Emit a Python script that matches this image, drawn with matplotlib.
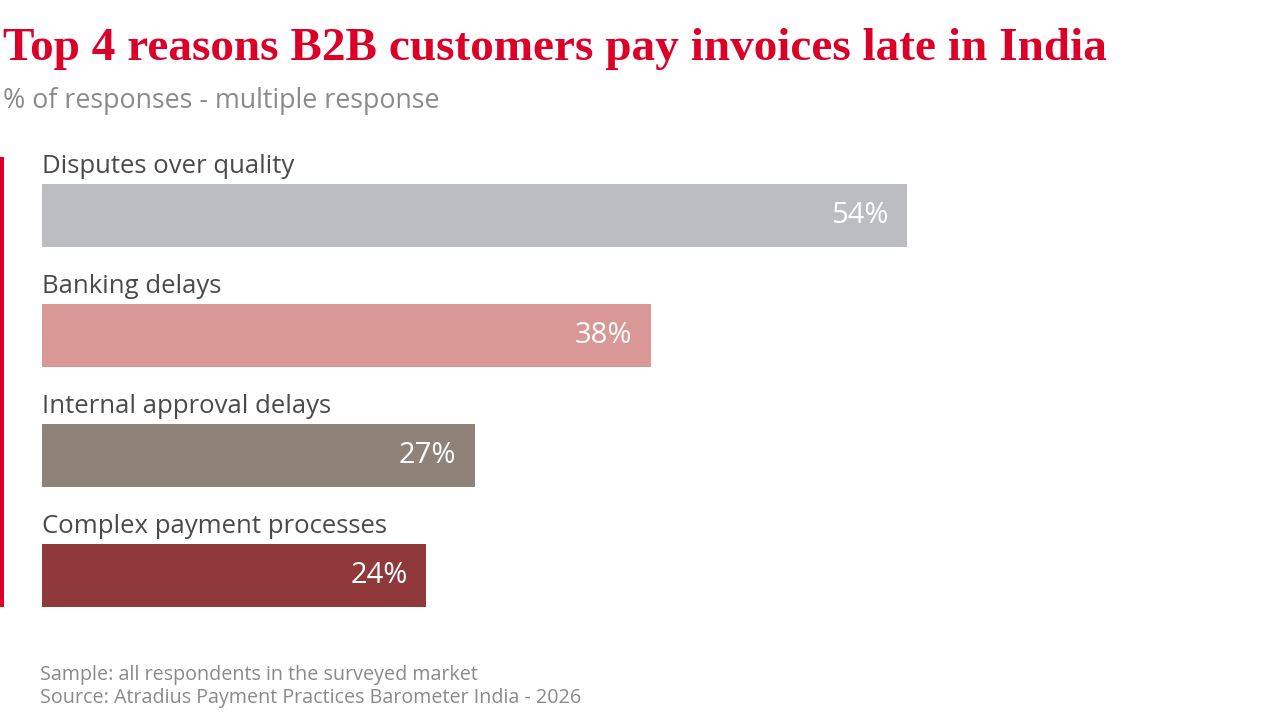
import matplotlib.pyplot as plt
from matplotlib.patches import Rectangle

# data
categories = ["Disputes over quality", "Banking delays",
              "Internal approval delays", "Complex payment processes"]
values = [54, 38, 27, 24]
bar_colors = ["#bcbdc1", "#d99795", "#8e8279", "#8f393b"]

W, H = 1280, 720
RED = "#dc0028"
GREY_TXT = "#4a4a4a"
SANS = ["Open Sans", "DejaVu Sans"]


def fx(px):
    return px / W


def fy(py):
    return 1 - py / H


fig = plt.figure(figsize=(12.8, 7.2), dpi=100)
fig.patch.set_facecolor("white")

# axes: bars start at x=42px, 54% ends at 907px, 4 slots of 120px from y=155.5
ax = fig.add_axes([fx(42), fy(635.5), fx(907 - 42), (635.5 - 155.5) / H])
ax.set_xlim(0, 54)
ax.set_ylim(3.5, -0.5)
ax.axis("off")

bar_h = 63 / 120
ax.barh(range(len(values)), values, height=bar_h, color=bar_colors, zorder=2)

for i, (cat, v) in enumerate(zip(categories, values)):
    ax.text(0, i - bar_h / 2 - 11 / 120, cat, ha="left", va="baseline",
            fontsize=18.5, color=GREY_TXT, family=SANS)
    ax.annotate(f"{v}%", xy=(v, i), xytext=(-13, 0), textcoords="offset points",
                ha="right", va="center", fontsize=21, color="white", family=SANS)

# red accent line on the left
fig.add_artist(Rectangle((0, fy(607)), fx(4), (607 - 157) / H,
                         transform=fig.transFigure, color=RED, lw=0))

fig.text(fx(3), fy(60), "Top 4 reasons B2B customers pay invoices late in India",
         fontsize=34, fontweight="bold", color=RED, family="Liberation Serif",
         ha="left", va="baseline")
fig.text(fx(3), fy(108), "% of responses - multiple response",
         fontsize=19.3, color="#8a8a8a", family=SANS, ha="left", va="baseline")

fig.text(fx(40), fy(680), "Sample: all respondents in the surveyed market",
         fontsize=14.2, color="#8a8a8a", family=SANS, ha="left", va="baseline")
fig.text(fx(40), fy(703), "Source: Atradius Payment Practices Barometer India - 2026",
         fontsize=14.2, color="#8a8a8a", family=SANS, ha="left", va="baseline")

fig.savefig("out.png", dpi=100)
